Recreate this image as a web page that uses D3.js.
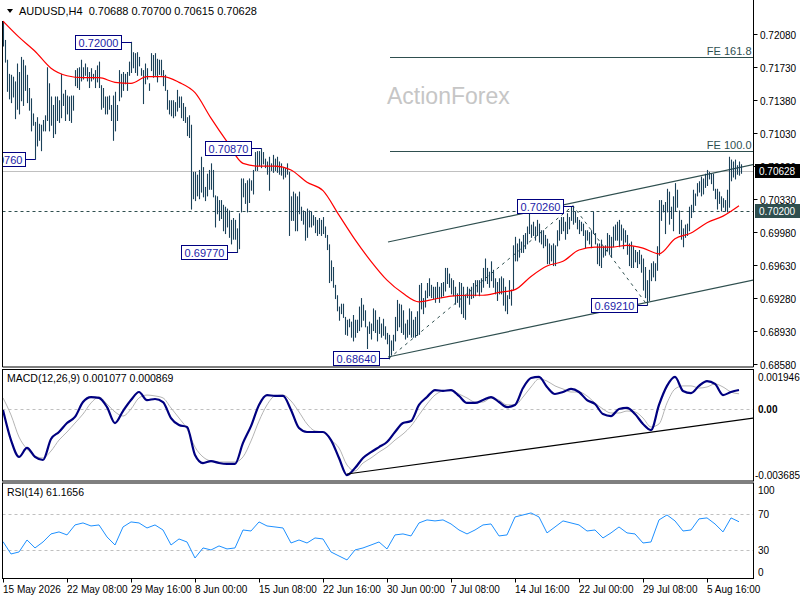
<!DOCTYPE html>
<html>
<head>
<meta charset="utf-8">
<script src="https://cdn.jsdelivr.net/npm/d3@7"></script>
<style>
  body { margin: 0; background: #fff; }
  svg { display: block; font-family: "Liberation Sans", Arial, sans-serif; font-size: 10px; }
</style>
</head>
<body>
<svg id="chart" width="800" height="600"></svg>
<script>
// H4 bar highs / lows, in 1/10000 (pips), one per bar
const highs = [
  7222, 7202, 7181, 7166, 7165, 7163, 7158, 7177, 7168, 7184,
  7181, 7175, 7165, 7151, 7140, 7124, 7115, 7120, 7113, 7112,
  7117, 7122, 7173, 7156, 7142, 7133, 7142, 7142, 7138, 7166,
  7145, 7149, 7143, 7142, 7143, 7143, 7170, 7172, 7173, 7181,
  7173, 7177, 7173, 7168, 7172, 7166, 7170, 7175, 7179, 7154,
  7151, 7142, 7142, 7143, 7133, 7143, 7147, 7133, 7170, 7166,
  7168, 7166, 7168, 7179, 7200, 7189, 7188, 7189, 7184, 7172,
  7170, 7177, 7172, 7156, 7188, 7186, 7188, 7182, 7181, 7181,
  7170, 7165, 7149, 7138, 7138, 7138, 7136, 7149, 7142, 7142,
  7135, 7131, 7120, 7122, 7112, 7062, 7062, 7059, 7064, 7078,
  7067, 7046, 7060, 7064, 7071, 7064, 7037, 7036, 7032, 7032,
  7027, 7025, 7023, 7021, 7011, 7013, 7011, 7002, 7018, 7055,
  7055, 7050, 7053, 7055, 7053, 7064, 7083, 7084, 7084, 7087,
  7083, 7076, 7073, 7078, 7071, 7080, 7076, 7078, 7073, 7071,
  7067, 7066, 7071, 7062, 7036, 7041, 7039, 7036, 7041, 7025,
  7021, 7020, 7023, 7021, 7020, 7016, 7014, 7011, 7013, 7011,
  7014, 7004, 6995, 6985, 6968, 6961, 6942, 6931, 6919, 6922,
  6922, 6908, 6905, 6906, 6903, 6910, 6905, 6905, 6919, 6928,
  6921, 6915, 6898, 6903, 6901, 6917, 6915, 6905, 6908, 6901,
  6906, 6898, 6891, 6889, 6883, 6889, 6908, 6926, 6922, 6921,
  6915, 6901, 6905, 6917, 6914, 6905, 6908, 6914, 6942, 6944,
  6928, 6936, 6944, 6949, 6942, 6940, 6940, 6945, 6940, 6944,
  6945, 6960, 6960, 6954, 6949, 6947, 6940, 6933, 6945, 6944,
  6940, 6931, 6940, 6938, 6940, 6944, 6947, 6947, 6947, 6949,
  6960, 6970, 6960, 6956, 6967, 6958, 6949, 6945, 6949, 6951,
  6949, 6940, 6931, 6947, 6937, 6984, 6993, 6986, 6991, 6988,
  6995, 6997, 7004, 7021, 7006, 7009, 7004, 7011, 7007, 7000,
  7000, 6995, 6991, 6986, 6984, 6986, 6984, 7000, 7011, 7014,
  7014, 7009, 7018, 7014, 7025, 7026, 7020, 7014, 7011, 7009,
  7007, 7000, 7000, 6998, 7000, 7020, 6997, 6986, 6986, 6990,
  6983, 6984, 6997, 6995, 6993, 7004, 7006, 7009, 7011, 7006,
  7002, 7000, 6995, 6986, 6988, 6983, 6979, 6977, 6979, 6974,
  6970, 6961, 6947, 6958, 6965, 6967, 6965, 6983, 7032, 7032,
  7027, 7030, 7044, 7041, 7025, 7036, 7050, 7043, 7021, 7011,
  7002, 7006, 7007, 7025, 7027, 7043, 7039, 7050, 7052, 7057,
  7055, 7060, 7064, 7062, 7060, 7060, 7044, 7044, 7041, 7036,
  7034, 7032, 7043, 7078, 7075, 7073, 7075, 7069, 7073, 7070
];
const lows = [
  7196, 7179, 7148, 7140, 7136, 7142, 7119, 7129, 7124, 7138,
  7133, 7149, 7136, 7128, 7106, 7112, 7076, 7090, 7096, 7085,
  7106, 7106, 7117, 7106, 7112, 7099, 7103, 7117, 7115, 7120,
  7133, 7117, 7124, 7117, 7115, 7128, 7154, 7152, 7150, 7159,
  7161, 7165, 7159, 7152, 7159, 7161, 7152, 7158, 7152, 7129,
  7131, 7124, 7124, 7129, 7117, 7096, 7106, 7117, 7138, 7142,
  7149, 7156, 7149, 7165, 7168, 7173, 7168, 7165, 7175, 7165,
  7135, 7156, 7161, 7149, 7170, 7163, 7165, 7158, 7166, 7165,
  7154, 7149, 7129, 7124, 7122, 7120, 7122, 7127, 7131, 7120,
  7117, 7115, 7101, 7099, 7023, 7034, 7032, 7037, 7034, 7041,
  7036, 7032, 7037, 7044, 7044, 7036, 7004, 7018, 7011, 7013,
  7000, 6997, 7004, 6993, 6986, 6991, 6991, 6977, 6981, 7020,
  7036, 7029, 7020, 7030, 7043, 7039, 7064, 7064, 7069, 7067,
  7071, 7067, 7060, 7043, 7064, 7062, 7064, 7062, 7060, 7059,
  7055, 7057, 7060, 6995, 7011, 7011, 7000, 7000, 7018, 7011,
  7007, 6990, 6993, 7004, 7004, 7006, 6998, 6995, 6997, 6995,
  6997, 6993, 6980, 6945, 6947, 6940, 6928, 6915, 6905, 6912,
  6908, 6890, 6889, 6898, 6887, 6883, 6887, 6892, 6894, 6898,
  6905, 6898, 6875, 6891, 6885, 6894, 6892, 6883, 6891, 6887,
  6889, 6885, 6880, 6864, 6868, 6873, 6883, 6894, 6898, 6892,
  6890, 6885, 6887, 6890, 6887, 6887, 6887, 6889, 6890, 6917,
  6912, 6919, 6929, 6931, 6929, 6928, 6924, 6928, 6924, 6929,
  6931, 6936, 6944, 6940, 6933, 6931, 6922, 6924, 6919, 6912,
  6908, 6906, 6929, 6922, 6928, 6929, 6931, 6935, 6931, 6935,
  6940, 6947, 6944, 6940, 6947, 6940, 6933, 6926, 6933, 6933,
  6921, 6915, 6912, 6928, 6921, 6937, 6968, 6968, 6972, 6977,
  6977, 6981, 6986, 6997, 6993, 6995, 6990, 6995, 6988, 6986,
  6982, 6984, 6965, 6965, 6968, 6963, 6963, 6984, 6990, 6997,
  7000, 6991, 6997, 7002, 7011, 7007, 7009, 7002, 6997, 7000,
  6995, 6982, 6990, 6986, 6982, 6997, 6986, 6965, 6963, 6961,
  6972, 6974, 6979, 6975, 6972, 6983, 6990, 6990, 6983, 6990,
  6981, 6988, 6975, 6963, 6961, 6961, 6967, 6961, 6965, 6956,
  6937, 6929, 6921, 6926, 6947, 6951, 6947, 6958, 6974, 7011,
  7020, 6997, 7020, 7007, 7013, 7000, 7021, 7025, 6997, 6991,
  6983, 6993, 6995, 7000, 7014, 7020, 7027, 7037, 7041, 7037,
  7039, 7046, 7048, 7055, 7050, 7043, 7034, 7023, 7029, 7021,
  7025, 7021, 7020, 7025, 7053, 7057, 7055, 7060, 7059, 7061
];

// red moving average, pips, every 8 bars
const maValues = [
  7222, 7205, 7190, 7172, 7164, 7162, 7162, 7157, 7156, 7163,
  7163, 7157, 7146, 7119, 7094, 7071, 7068, 7068, 7064, 7051,
  7042, 7016, 6990, 6967, 6947, 6933, 6924, 6927, 6930, 6931,
  6931, 6934, 6937, 6951, 6962, 6967, 6979, 6982, 6982, 6984,
  6981, 6975, 6991, 6997, 7008, 7015, 7026
];

// MACD(12,26,9) main and signal, every 4 bars
const macdMain = [
  -0.00003, -0.00171, -0.00265, -0.00215, -0.00265, -0.00282, -0.00165, -0.00126, -0.00076, -0.00042,
  0.00041, 0.00069, 0.00064, 0.00013, -0.00076, -0.00009, 0.00052, 0.00097, 0.00052, 0.00058,
  0.00041, -0.00048, -0.00087, -0.00098, -0.00254, -0.00299, -0.00288, -0.00299, -0.00304, -0.00304,
  -0.00187, -0.00093, 0.00025, 0.00080, 0.00075, 0.00075, -0.00003, -0.00104, -0.00126, -0.00126,
  -0.00126, -0.00171, -0.00271, -0.00366, -0.00327, -0.00271, -0.00238, -0.00210, -0.00182, -0.00126,
  -0.00076, -0.00065, 0.00025, 0.00069, 0.00108, 0.00103, 0.00108, 0.00075, 0.00036, 0.00036,
  0.00052, 0.00069, 0.00041, 0.00013, 0.00025, 0.00119, 0.00175, 0.00181, 0.00125, 0.00086,
  0.00097, 0.00114, 0.00097, 0.00052, 0.00030, -0.00026, -0.00037, 0.00002, 0.00008, -0.00026,
  -0.00081, -0.00115, 0.00025, 0.00131, 0.00181, 0.00103, 0.00091, 0.00131, 0.00158, 0.00142,
  0.00080, 0.00097, 0.00108
];
const macdSignal = [
  0.00064, -0.00031, -0.00154, -0.00221, -0.00260, -0.00271, -0.00232, -0.00171, -0.00126, -0.00076,
  -0.00026, 0.00036, 0.00069, 0.00030, -0.00014, -0.00037, 0.00002, 0.00064, 0.00080, 0.00075,
  0.00064, 0.00008, -0.00048, -0.00109, -0.00210, -0.00265, -0.00288, -0.00293, -0.00293, -0.00293,
  -0.00265, -0.00176, -0.00065, 0.00025, 0.00075, 0.00080, 0.00047, -0.00014, -0.00081, -0.00120,
  -0.00126, -0.00171, -0.00215, -0.00310, -0.00343, -0.00299, -0.00271, -0.00238, -0.00210, -0.00171,
  -0.00137, -0.00093, -0.00031, 0.00030, 0.00080, 0.00103, 0.00108, 0.00086, 0.00064, 0.00041,
  0.00041, 0.00064, 0.00052, 0.00025, 0.00025, 0.00069, 0.00125, 0.00170, 0.00158, 0.00131,
  0.00114, 0.00097, 0.00097, 0.00075, 0.00036, 0.00002, -0.00020, -0.00020, -0.00009, -0.00014,
  -0.00048, -0.00098, -0.00081, 0.00036, 0.00114, 0.00131, 0.00131, 0.00119, 0.00125, 0.00142,
  0.00125, 0.00097, 0.00087
];

// RSI(14), every 4 bars
const rsiValues = [
  39.5, 26.0, 28.2, 41.3, 32.6, 39.1, 47.9, 50.1, 46.8, 57.7,
  59.9, 56.6, 57.7, 44.6, 35.8, 55.5, 61.0, 59.9, 54.4, 57.7,
  52.2, 35.8, 42.4, 39.1, 21.6, 32.6, 30.4, 34.8, 31.5, 32.6,
  52.2, 51.1, 61.0, 56.6, 55.5, 54.4, 38.0, 41.3, 38.0, 43.5,
  42.4, 28.2, 23.8, 19.5, 30.4, 32.6, 35.8, 39.1, 31.5, 46.8,
  47.9, 45.7, 59.9, 63.2, 62.1, 63.2, 58.8, 52.2, 47.9, 52.2,
  57.7, 58.8, 45.7, 46.8, 66.4, 68.6, 70.8, 66.4, 49.0, 55.5,
  62.1, 59.9, 57.7, 51.1, 52.2, 43.5, 49.0, 55.5, 49.0, 47.9,
  38.0, 39.1, 63.2, 68.6, 62.1, 51.1, 52.2, 64.3, 65.4, 58.8,
  50.1, 65.4, 61.2
];

const priceTicks = [0.72080, 0.71730, 0.71380, 0.71030, 0.70680, 0.70330, 0.69980, 0.69630, 0.69280, 0.68930, 0.68580];
const macdTicks = [0.001946, 0, -0.003685];
const rsiTicks = [100, 70, 30, 0];
const timeTickBars = [0, 32, 64, 96, 128, 160, 192, 224, 256, 288, 320, 352];
const timeLabels = ["15 May 2026", "22 May 08:00", "29 May 16:00", "8 Jun 00:00", "15 Jun 08:00", "22 Jun 16:00",
  "30 Jun 00:00", "7 Jul 08:00", "14 Jul 16:00", "22 Jul 00:00", "29 Jul 08:00", "5 Aug 16:00"];

// chart drawings: [bar, price]
const swingLabels = [[16, 0.70760], [64, 0.72000], [129, 0.70870], [117, 0.69770], [193, 0.68640], [285, 0.70260], [322, 0.69210]];
const feLevels = [["FE 161.8", 0.71839], ["FE 100.0", 0.70841]];
const channelUpper = [[192.5, 0.69875], [375.3, 0.70698]];
const channelLower = [[192.5, 0.68654], [375.3, 0.69472]];
const zigzag = [[193, 0.68640], [285, 0.70260], [322, 0.69210]];
const macdTrend = [[172, -0.00360], [375.5, -0.00048]];
const lastPrice = 0.70628;
const levelLine = 0.70200;
const header = "AUDUSD,H4  0.70688 0.70700 0.70615 0.70628";

const svg = d3.select("#chart");
const L = 2.5, R = 753.5;
const mainP = { top: 0, bottom: 367 };
const macdP = { top: 369.5, bottom: 481 };
const rsiP = { top: 483, bottom: 578.5 };

const x = d3.scaleLinear().domain([0, 369]).range([3, 741]);
const y = d3.scaleLinear().domain([0.68580, 0.72080]).range([364, 34.3]);
const yM = d3.scaleLinear().domain([-0.003685, 0.001946]).range([475.5, 374.5]);
const yR = d3.scaleLinear().domain([0, 100]).range([577.8, 486.2]);

const defs = svg.append("defs");
[["clipMain", mainP], ["clipMacd", macdP], ["clipRsi", rsiP]].forEach(([id, p]) => {
  defs.append("clipPath").attr("id", id).append("rect")
    .attr("x", L + 0.5).attr("y", p.top).attr("width", R - L - 1).attr("height", p.bottom - p.top);
});

// ---------- main price panel ----------
const gMain = svg.append("g").attr("clip-path", "url(#clipMain)");

gMain.append("line")
  .attr("x1", L).attr("x2", R).attr("y1", Math.round(y(lastPrice)) + 0.5).attr("y2", Math.round(y(lastPrice)) + 0.5)
  .attr("stroke", "#c0c0c0");
gMain.append("line")
  .attr("x1", L).attr("x2", R).attr("y1", Math.round(y(levelLine)) + 0.5).attr("y2", Math.round(y(levelLine)) + 0.5)
  .attr("stroke", "#2f4f4f").attr("stroke-dasharray", "3,3");

feLevels.forEach(([name, p]) => {
  const yy = Math.round(y(p)) + 0.5;
  gMain.append("line").attr("x1", x(193.5)).attr("x2", R).attr("y1", yy).attr("y2", yy)
    .attr("stroke", "#2f4f4f");
  gMain.append("text").attr("x", R - 2).attr("y", yy - 3).attr("text-anchor", "end")
    .attr("font-size", 11).attr("fill", "#2f4f4f").text(name);
});

const seg = d3.line().x(d => x(d[0])).y(d => y(d[1]));
[channelUpper, channelLower].forEach(c => {
  gMain.append("path").attr("d", seg(c)).attr("fill", "none").attr("stroke", "#2f4f4f").attr("stroke-width", 1.2);
});
gMain.append("path").attr("d", seg(zigzag)).attr("fill", "none")
  .attr("stroke", "#2f4f4f").attr("stroke-dasharray", "3,4");

gMain.selectAll("line.bar")
  .data(highs.map((h, i) => ({ i, h: h / 1e4, l: lows[i] / 1e4 })))
  .join("line").attr("class", "bar")
  .attr("x1", d => Math.round(x(d.i)) + 0.5).attr("x2", d => Math.round(x(d.i)) + 0.5)
  .attr("y1", d => y(d.h)).attr("y2", d => y(d.l) + 1)
  .attr("stroke", "#1b4159").attr("stroke-width", 1.1);

gMain.append("path")
  .attr("d", d3.line().curve(d3.curveMonotoneX).x((d, k) => x(k * 8)).y(d => y(d / 1e4))(maValues))
  .attr("fill", "none").attr("stroke", "#ff0000").attr("stroke-width", 1.2);

swingLabels.forEach(([bar, p]) => {
  const bx = Math.round(x(bar)), yy = Math.round(y(p)) + 0.5;
  const right = bx - 10, w = 46, h = 14;
  gMain.append("line").attr("x1", right).attr("x2", bx + 0.5).attr("y1", yy).attr("y2", yy)
    .attr("stroke", "#000080");
  gMain.append("rect").attr("x", right - w + 0.5).attr("y", yy - h / 2).attr("width", w).attr("height", h)
    .attr("fill", "#fff").attr("stroke", "#000080");
  gMain.append("text").attr("x", right - w / 2 + 0.5).attr("y", yy + 4).attr("text-anchor", "middle")
    .attr("font-size", 11).attr("fill", "#1c1ca8").text(p.toFixed(5));
});

svg.append("text").attr("x", 387).attr("y", 104).attr("font-size", 23).attr("fill", "#c6c6c6").text("ActionForex");

svg.append("path").attr("d", "M7,9 L13,9 L10,13 Z").attr("fill", "#000");
svg.append("text").attr("x", 19).attr("y", 15).attr("font-size", 11).attr("fill", "#000")
  .attr("xml:space", "preserve").text(header);

// ---------- MACD panel ----------
const gMacd = svg.append("g").attr("clip-path", "url(#clipMacd)");
gMacd.append("line").attr("x1", L).attr("x2", R).attr("y1", Math.round(yM(0)) + 0.5).attr("y2", Math.round(yM(0)) + 0.5)
  .attr("stroke", "#c0c0c0").attr("stroke-dasharray", "3,3");
gMacd.append("path")
  .attr("d", d3.line().curve(d3.curveMonotoneX).x((d, k) => x(k * 4)).y(d => yM(d))(macdSignal))
  .attr("fill", "none").attr("stroke", "#b4b4b4").attr("stroke-width", 1);
gMacd.append("path")
  .attr("d", d3.line().curve(d3.curveMonotoneX).x((d, k) => x(k * 4)).y(d => yM(d))(macdMain))
  .attr("fill", "none").attr("stroke", "#000080").attr("stroke-width", 2.2);
gMacd.append("path")
  .attr("d", d3.line().x(d => x(d[0])).y(d => yM(d[1]))(macdTrend))
  .attr("fill", "none").attr("stroke", "#000").attr("stroke-width", 1.2);
svg.append("text").attr("x", 7).attr("y", 382).attr("font-size", 10.5).text("MACD(12,26,9) 0.001077 0.000869");

// ---------- RSI panel ----------
const gRsi = svg.append("g").attr("clip-path", "url(#clipRsi)");
[70, 30].forEach(v => {
  gRsi.append("line").attr("x1", L).attr("x2", R).attr("y1", Math.round(yR(v)) + 0.5).attr("y2", Math.round(yR(v)) + 0.5)
    .attr("stroke", "#c0c0c0").attr("stroke-dasharray", "3,3");
});
gRsi.append("path")
  .attr("d", d3.line().x((d, k) => x(k * 4)).y(d => yR(d))(rsiValues))
  .attr("fill", "none").attr("stroke", "#1e90ff").attr("stroke-width", 1);
svg.append("text").attr("x", 7).attr("y", 496).attr("font-size", 10.5).text("RSI(14) 61.1656");

// ---------- frames ----------
const frame = svg.append("g").attr("stroke", "#000").attr("fill", "none");
frame.append("path").attr("d", `M${L},21 V${mainP.bottom} H${R} V0`);
[macdP, rsiP].forEach(p => {
  frame.append("rect").attr("x", L).attr("y", p.top).attr("width", R - L).attr("height", p.bottom - p.top);
});

// ---------- right axes ----------
const axisG = svg.append("g").attr("fill", "#000");
priceTicks.forEach(v => {
  const yy = Math.round(y(v)) + 0.5;
  axisG.append("line").attr("x1", R).attr("x2", R + 4).attr("y1", yy).attr("y2", yy).attr("stroke", "#000");
  axisG.append("text").attr("x", 760).attr("y", yy + 4).text(v.toFixed(5));
});
macdTicks.forEach(v => {
  const yy = Math.max(377, Math.min(475, yM(v)));
  axisG.append("text").attr("x", v < 0 ? 755 : 758).attr("y", yy + 4)
    .attr("font-weight", v === 0 ? "bold" : "normal").text(v === 0 ? "0.00" : v.toString());
});
rsiTicks.forEach(v => {
  const yy = Math.max(490, Math.min(572, yR(v)));
  axisG.append("text").attr("x", 758).attr("y", yy + 4).text(v);
});

function priceBox(p, fill) {
  const yy = Math.round(y(p));
  svg.append("rect").attr("x", 755).attr("y", yy - 7).attr("width", 45).attr("height", 14).attr("fill", fill);
  svg.append("text").attr("x", 759).attr("y", yy + 4).attr("fill", "#fff").text(p.toFixed(5));
}
priceBox(lastPrice, "#000");
priceBox(levelLine, "#2f4f4f");

// ---------- time axis ----------
timeTickBars.forEach((b, k) => {
  const xx = Math.round(x(b)) + 0.5;
  svg.append("line").attr("x1", xx).attr("x2", xx).attr("y1", rsiP.bottom).attr("y2", rsiP.bottom + 4).attr("stroke", "#000");
  svg.append("text").attr("x", xx - 0.5).attr("y", 593).text(timeLabels[k]);
});
</script>
</body>
</html>
